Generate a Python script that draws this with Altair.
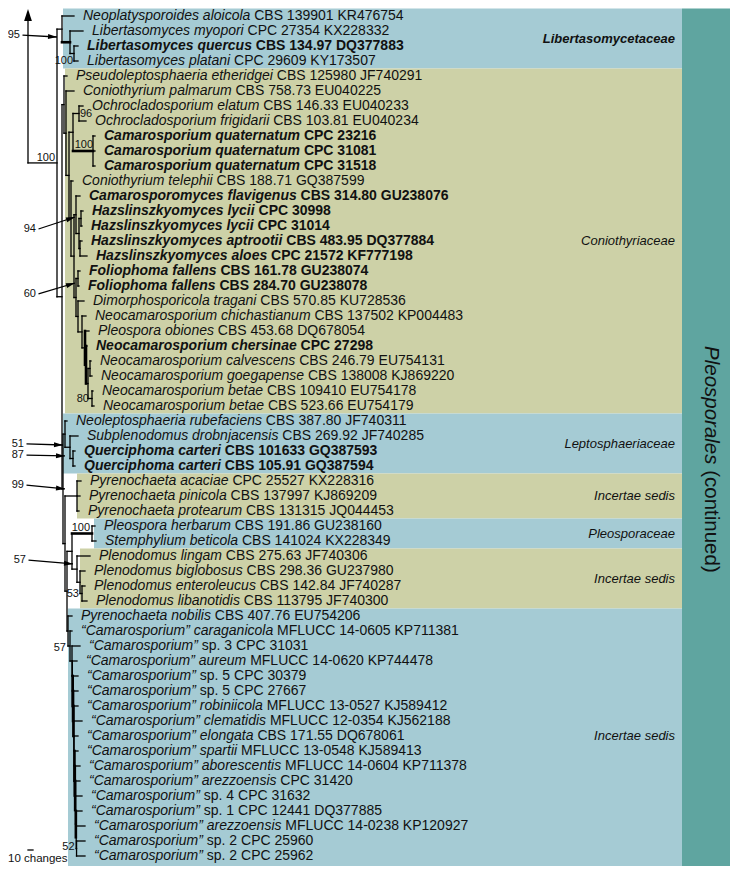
import math
import altair as alt
import pandas as pd

# ------------------------------------------------------------------ data
taxon_names = [
    "Neoplatysporoides aloicola", "Libertasomyces myopori", "Libertasomyces quercus",
    "Libertasomyces platani", "Pseudoleptosphaeria etheridgei", "Coniothyrium palmarum",
    "Ochrocladosporium elatum", "Ochrocladosporium frigidarii", "Camarosporium quaternatum",
    "Camarosporium quaternatum", "Camarosporium quaternatum", "Coniothyrium telephii",
    "Camarosporomyces flavigenus", "Hazslinszkyomyces lycii", "Hazslinszkyomyces lycii",
    "Hazslinszkyomyces aptrootii", "Hazslinszkyomyces aloes", "Foliophoma fallens",
    "Foliophoma fallens", "Dimorphosporicola tragani", "Neocamarosporium chichastianum",
    "Pleospora obiones", "Neocamarosporium chersinae", "Neocamarosporium calvescens",
    "Neocamarosporium goegapense", "Neocamarosporium betae", "Neocamarosporium betae",
    "Neoleptosphaeria rubefaciens", "Subplenodomus drobnjacensis", "Querciphoma carteri",
    "Querciphoma carteri", "Pyrenochaeta acaciae", "Pyrenochaeta pinicola",
    "Pyrenochaeta protearum", "Pleospora herbarum", "Stemphylium beticola",
    "Plenodomus lingam", "Plenodomus biglobosus", "Plenodomus enteroleucus",
    "Plenodomus libanotidis", "Pyrenochaeta nobilis", "“Camarosporium” caraganicola",
    "“Camarosporium”", "“Camarosporium” aureum", "“Camarosporium”", "“Camarosporium”",
    "“Camarosporium” robiniicola", "“Camarosporium” clematidis", "“Camarosporium” elongata",
    "“Camarosporium” spartii", "“Camarosporium” aborescentis", "“Camarosporium” arezzoensis",
    "“Camarosporium”", "“Camarosporium”", "“Camarosporium” arezzoensis",
    "“Camarosporium”", "“Camarosporium”",
]
taxon_strains = [
    "CBS 139901 KR476754", "CPC 27354 KX228332", "CBS 134.97 DQ377883", "CPC 29609 KY173507",
    "CBS 125980 JF740291", "CBS 758.73 EU040225", "CBS 146.33 EU040233", "CBS 103.81 EU040234",
    "CPC 23216", "CPC 31081", "CPC 31518", "CBS 188.71 GQ387599", "CBS 314.80 GU238076",
    "CPC 30998", "CPC 31014", "CBS 483.95 DQ377884", "CPC 21572 KF777198",
    "CBS 161.78 GU238074", "CBS 284.70 GU238078", "CBS 570.85 KU728536",
    "CBS 137502 KP004483", "CBS 453.68 DQ678054", "CPC 27298", "CBS 246.79 EU754131",
    "CBS 138008 KJ869220", "CBS 109410 EU754178", "CBS 523.66 EU754179",
    "CBS 387.80 JF740311", "CBS 269.92 JF740285", "CBS 101633 GQ387593",
    "CBS 105.91 GQ387594", "CPC 25527 KX228316", "CBS 137997 KJ869209",
    "CBS 131315 JQ044453", "CBS 191.86 GU238160", "CBS 141024 KX228349",
    "CBS 275.63 JF740306", "CBS 298.36 GU237980", "CBS 142.84 JF740287",
    "CBS 113795 JF740300", "CBS 407.76 EU754206", "MFLUCC 14-0605 KP711381",
    "sp. 3 CPC 31031", "MFLUCC 14-0620 KP744478", "sp. 5 CPC 30379", "sp. 5 CPC 27667",
    "MFLUCC 13-0527 KJ589412", "MFLUCC 12-0354 KJ562188", "CBS 171.55 DQ678061",
    "MFLUCC 13-0548 KJ589413", "MFLUCC 14-0604 KP711378", "CPC 31420", "sp. 4 CPC 31632",
    "sp. 1 CPC 12441 DQ377885", "MFLUCC 14-0238 KP120927", "sp. 2 CPC 25960",
    "sp. 2 CPC 25962",
]
bold_rows = [2, 8, 9, 10, 12, 13, 14, 15, 16, 17, 18, 22, 29, 30]

# phylogram: leaves are row numbers, branch lengths in changes
tree_newick = (
    "(((0:24,(1:26,(2:8,3:8)L3:8)L2:16)L:10,"
    "((4:6,(5:16,(((6:8,7:14)Och:12,(8:4,9:4,10:4)Cq:40)C3:8,"
    "(11:4,((12:8,((13:4,14:2)Hl:4,(15:4,16:14)Ha:2)H:6)C6:4,"
    "((17:4,18:2)F:4,(19:12,(20:8,(21:8,(22:2,((23:2,24:4)Nc:4,(25:2,26:4)Nb:8)C12:4)C11:2)C10:6)C9:8)C8:4)C7:4)C5:6)C4:4)C2:6)C1:4)C:4,"
    "((27:4,(28:16,(29:4,30:4)Q:6)Lep2:10)Lep:4,"
    "((31:8,32:6,33:4)Pyr:24,"
    "(((34:6,35:8)Pleo:40,(36:26,(37:10,(38:6,39:10)Plen3:4)Plen2:6)Plen:10)N5:10,"
    "(40:8,(41:4,"
    "(42:16,(43:9.3,(44:10.6,(45:9.9,(46:9.2,(47:16.5,(48:7.8,(49:7.1,(50:10.4,(51:9.7,"
    "(52:13,(53:12.3,(54:17.6,(55:16.9,56:16.9)K13:0.7)K12:0.7)K11:0.7)K10:0.7)K9:0.7)"
    "K8:0.7)K7:0.7)K6:0.7)K5:0.7)K4:0.7)K3:0.7)K2:0.7)K1:0.7)B2:4"
    ")B1:4)B:2)N4:4)N3:4)N2:2)N1:10)N0:58)R;"
)
support_nodes = ["N0", "L3", "Och", "Cq", "Nb", "Pleo", "Plen3", "B1", "K13"]
support_values = ["100", "100", "96", "100", "80", "100", "53", "57", "52"]

arrow_labels = ["95", "94", "60", "51", "87", "99", "57"]
arrow_label_x = [-16, 16, 16, -8, -8, -8, -4]          # changes
arrow_label_y = [1.27, 14.2, 18.53, 28.53, 29.27, 31.27, 36.27]  # rows
arrow_tip_x = [58, 94, 94, 70, 74, 74, 90]
arrow_tip_y = [1.4, 13.4, 17.8, 28.6, 29.33, 31.53, 36.53]

family_names = ["Libertasomycetaceae", "Coniothyriaceae", "Leptosphaeriaceae",
                "Incertae sedis", "Pleosporaceae", "Incertae sedis", "Incertae sedis"]
family_first = [0, 4, 27, 31, 34, 36, 40]
family_last = [3, 26, 30, 33, 35, 39, 56]
family_colour = ["#a5cbd4", "#cdd1a7", "#a5cbd4", "#cdd1a7", "#a5cbd4", "#cdd1a7", "#a5cbd4"]
family_left = [70, 74, 70, 98, 132, 104, 80]
family_bold = [1, 0, 0, 0, 0, 0, 0]
order_name = "Pleosporales"
order_rest = "(continued)"
scale_bar_changes = 10
scale_bar_text = "10 changes"

# ------------------------------------------------------------------ helpers
FONT = "Liberation Sans"
LOW_R = [556,556,500,556,556,278,556,556,222,222,500,222,833,556,556,556,556,333,500,278,556,500,722,500,500,500]
UP_R = [667,667,722,722,667,611,778,722,278,500,667,556,833,722,778,667,778,722,667,611,722,667,944,667,667,611]
LOW_B = [556,611,556,611,556,333,611,611,278,278,556,278,889,611,611,611,611,389,556,333,611,556,778,556,556,500]
UP_B = [722,722,722,722,667,611,778,722,278,556,722,611,833,722,778,667,778,722,667,611,722,667,944,667,667,611]


def char_w(ch, bold):
    if "a" <= ch <= "z":
        return (LOW_B if bold else LOW_R)[ord(ch) - 97]
    if "A" <= ch <= "Z":
        return (UP_B if bold else UP_R)[ord(ch) - 65]
    if ch.isdigit():
        return 556
    other = {" ": 278, ".": 278, "-": 333, "(": 333, ")": 333,
             "“": 500 if bold else 333, "”": 500 if bold else 333}
    return other.get(ch, 556)


def text_w(s, size, bold=False):
    return sum(char_w(c, bold) for c in s) * size / 1000.0


PX = 2.0      # changes per pixel
ROW = 15.0    # pixels per row
W, H = 722, 858


def parse_newick(s):
    s = "".join(s.split()).rstrip(";")
    pos = 0

    def node():
        nonlocal pos
        n = {"children": [], "bl": 0.0}
        if s[pos] == "(":
            pos += 1
            while True:
                n["children"].append(node())
                if s[pos] == ",":
                    pos += 1
                    continue
                pos += 1
                break
        st = pos
        while pos < len(s) and s[pos] not in ":,()":
            pos += 1
        n["name"] = s[st:pos]
        if pos < len(s) and s[pos] == ":":
            pos += 1
            st = pos
            while pos < len(s) and s[pos] not in ",()":
                pos += 1
            n["bl"] = float(s[st:pos])
        return n

    return node()


root = parse_newick(tree_newick)


def layout(n, depth):
    n["x"] = depth
    if n["children"]:
        for c in n["children"]:
            layout(c, depth + c["bl"])
        n["y"] = (n["children"][0]["y"] + n["children"][-1]["y"]) / 2
    else:
        n["y"] = float(int(n["name"]))


layout(root, 0.0)

THICK_H = {"L2", "Cq", "Pleo"}
THICK_V = {"C10", "C11", "K2", "K3", "K4", "K7", "K8", "K9", "K11"}
segs, nodes, tips = [], {}, {}


def collect(n):
    if n["children"]:
        nodes[n["name"]] = n
        ys = [c["y"] for c in n["children"]]
        if max(ys) > min(ys):
            segs.append(dict(x=n["x"], x2=n["x"], y=min(ys), y2=max(ys),
                             w=2.6 if n["name"] in THICK_V else 1.3))
        for c in n["children"]:
            segs.append(dict(x=n["x"], x2=c["x"], y=c["y"], y2=c["y"],
                             w=2.6 if c["name"] in THICK_H else 1.3))
            collect(c)
    else:
        tips[int(n["name"])] = n["x"]


collect(root)
ARROW_TOP = -0.47
SB_ROW = 55.6
segs.append(dict(x=root["x"], x2=root["x"], y=root["y"], y2=ARROW_TOP + 0.3, w=1.3))
segs.append(dict(x=0, x2=scale_bar_changes, y=SB_ROW, y2=SB_ROW, w=1.3))
seg_df = pd.DataFrame(segs)

x_lo = -40
y_lo = -8 / 15
xs = alt.Scale(domain=[x_lo, x_lo + W * PX], nice=False, zero=False)
ys = alt.Scale(domain=[y_lo, y_lo + H / ROW], nice=False, zero=False, reverse=True)
y_bottom = y_lo + H / ROW


def X(f="x"):
    return alt.X(f"{f}:Q", scale=xs, axis=None)


def Y(f="y"):
    return alt.Y(f"{f}:Q", scale=ys, axis=None)


# ------------------------------------------------------------------ boxes
last_fam = len(family_names) - 1
boxes = pd.DataFrame({
    "x": family_left,
    "x2": [1308] * len(family_names),
    "y": [f - 0.5 for f in family_first],
    "y2": [y_bottom if i == last_fam else l + 0.5 for i, l in enumerate(family_last)],
    "c": family_colour,
})
boxes = pd.concat([boxes, pd.DataFrame({"x": [1308], "x2": [x_lo + W * PX], "y": [-0.5],
                                        "y2": [y_bottom], "c": ["#5fa5a0"]})])
box_layer = alt.Chart(boxes).mark_rect().encode(
    x=X(), x2="x2:Q", y=Y(), y2="y2:Q", color=alt.Color("c:N", scale=None))

fam_df = pd.DataFrame({
    "x": [1294] * len(family_names),
    "y": [(a + b) / 2 for a, b in zip(family_first, family_last)],
    "t": family_names, "b": family_bold})
fam_reg = alt.Chart(fam_df).transform_filter("datum.b == 0").mark_text(
    align="right", baseline="middle", font=FONT, fontSize=13, fontStyle="italic", color="#111"
).encode(x=X(), y=Y(), text="t:N")
fam_bold = alt.Chart(fam_df).transform_filter("datum.b == 1").mark_text(
    align="right", baseline="middle", font=FONT, fontSize=13, fontStyle="italic",
    fontWeight="bold", color="#111").encode(x=X(), y=Y(), text="t:N")

OSIZE = 20.5
o_y0 = 22.0
o_y1 = o_y0 + text_w(order_name + " ", OSIZE) / ROW
ord_df = pd.DataFrame({"x": [1366, 1366], "y": [o_y0, o_y1], "t": [order_name, order_rest],
                       "s": ["italic", "normal"]})
ord_it = alt.Chart(ord_df).transform_filter("datum.s == 'italic'").mark_text(
    angle=90, align="left", baseline="middle", font=FONT, fontSize=OSIZE, fontStyle="italic",
    color="#111").encode(x=X(), y=Y(), text="t:N")
ord_no = alt.Chart(ord_df).transform_filter("datum.s == 'normal'").mark_text(
    angle=90, align="left", baseline="middle", font=FONT, fontSize=OSIZE,
    color="#111").encode(x=X(), y=Y(), text="t:N")

# ------------------------------------------------------------------ tree
tree_layer = alt.Chart(seg_df).mark_rule(color="#000", strokeCap="square").encode(
    x=X(), x2="x2:Q", y=Y(), y2="y2:Q", strokeWidth=alt.StrokeWidth("w:Q", scale=None))

# ------------------------------------------------------------------ taxa
TSIZE = 14
rows = []
for i, (nm, st) in enumerate(zip(taxon_names, taxon_strains)):
    b = 1 if i in bold_rows else 0
    rows.append(dict(x=tips[i], y=i, t=nm, b=b, part="name"))
    rows.append(dict(x=tips[i] + PX * text_w(nm + " ", TSIZE, bool(b)), y=i, t=st, b=b,
                     part="strain"))
tax_df = pd.DataFrame(rows)


def tax_layer(part, bold):
    kw = dict(align="left", baseline="middle", font=FONT, fontSize=TSIZE, dx=9, color="#111")
    if part == "name":
        kw["fontStyle"] = "italic"
    if bold:
        kw["fontWeight"] = "bold"
    return alt.Chart(tax_df).transform_filter(
        f"datum.part == '{part}' && datum.b == {1 if bold else 0}"
    ).mark_text(**kw).encode(x=X(), y=Y(), text="t:N")


tax_layers = [tax_layer(p, b) for p in ("name", "strain") for b in (False, True)]

# ------------------------------------------------------------------ support values
sup_style = {  # align, baseline, dx(px), dy(px)
    "N0": ("right", "alphabetic", -2, -2), "L3": ("right", "middle", -1, 7.5),
    "Och": ("left", "middle", 1, 0.5), "Cq": ("right", "alphabetic", 0, -3),
    "Nb": ("right", "middle", -3, 0), "Pleo": ("right", "alphabetic", -2, -3),
    "Plen3": ("right", "middle", -3, 0), "B1": ("right", "middle", -4, 2),
    "K13": ("right", "middle", -2, -2),
}
sup_rows = []
for nm, val in zip(support_nodes, support_values):
    al, bl, dx, dy = sup_style[nm]
    n = nodes[nm]
    sup_rows.append(dict(x=n["x"] + dx * PX, y=n["y"] + dy / ROW, t=val, g=f"{al}|{bl}"))
sup_df = pd.DataFrame(sup_rows)
sup_layers = []
for g in sorted(set(sup_df["g"])):
    al, bl = g.split("|")
    sup_layers.append(alt.Chart(sup_df).transform_filter(f"datum.g == '{g}'").mark_text(
        align=al, baseline=bl, font=FONT, fontSize=11, color="#111"
    ).encode(x=X(), y=Y(), text="t:N"))

# ------------------------------------------------------------------ arrows
arr_rows, head_rows = [], []
for lab, lx, ly, tx, ty in zip(arrow_labels, arrow_label_x, arrow_label_y, arrow_tip_x, arrow_tip_y):
    sx = lx + 2.5 * PX
    arr_rows.append(dict(x=sx, x2=tx, y=ly, y2=ty, lx=lx, t=lab))
    ang = math.degrees(math.atan2((ty - ly) * ROW, (tx - sx) / PX)) % 360
    head_rows.append(dict(x=tx, y=ty, a=ang, k="small"))
head_rows.append(dict(x=root["x"], y=ARROW_TOP, a=270.0, k="big"))
arr_df = pd.DataFrame(arr_rows)
head_df = pd.DataFrame(head_rows)

arrow_lines = alt.Chart(arr_df).mark_rule(color="#000", strokeWidth=1.3).encode(
    x=X(), x2="x2:Q", y=Y(), y2="y2:Q")
arrow_text = alt.Chart(arr_df).mark_text(
    align="right", baseline="middle", font=FONT, fontSize=11, color="#111"
).encode(x=X("lx"), y=Y(), text="t:N")
heads_small = alt.Chart(head_df).transform_filter("datum.k == 'small'").mark_point(
    shape="M0,0L-2,-0.55L-2,0.55Z", filled=True, color="#000", opacity=1, size=81, strokeWidth=0
).encode(x=X(), y=Y(), angle=alt.Angle("a:Q", scale=None))
heads_big = alt.Chart(head_df).transform_filter("datum.k == 'big'").mark_point(
    shape="M0,0L-2,-0.65L-2,0.65Z", filled=True, color="#000", opacity=1, size=144, strokeWidth=0
).encode(x=X(), y=Y(), angle=alt.Angle("a:Q", scale=None))

# ------------------------------------------------------------------ scale bar text
sb_df = pd.DataFrame({"x": [x_lo], "y": [56.23], "t": [scale_bar_text]})
sb_text = alt.Chart(sb_df).mark_text(align="left", baseline="middle", font=FONT, fontSize=11.5,
                                     color="#111").encode(x=X(), y=Y(), text="t:N")

chart = alt.layer(
    box_layer, fam_reg, fam_bold, ord_it, ord_no, tree_layer, *tax_layers, *sup_layers,
    arrow_lines, arrow_text, heads_small, heads_big, sb_text
).properties(
    width=W, height=H, padding=0, autosize=alt.AutoSizeParams(type="none"),
    background="white"
).configure_view(stroke=None)

chart.save("out.html", embed_options={"renderer": "svg", "actions": False})
